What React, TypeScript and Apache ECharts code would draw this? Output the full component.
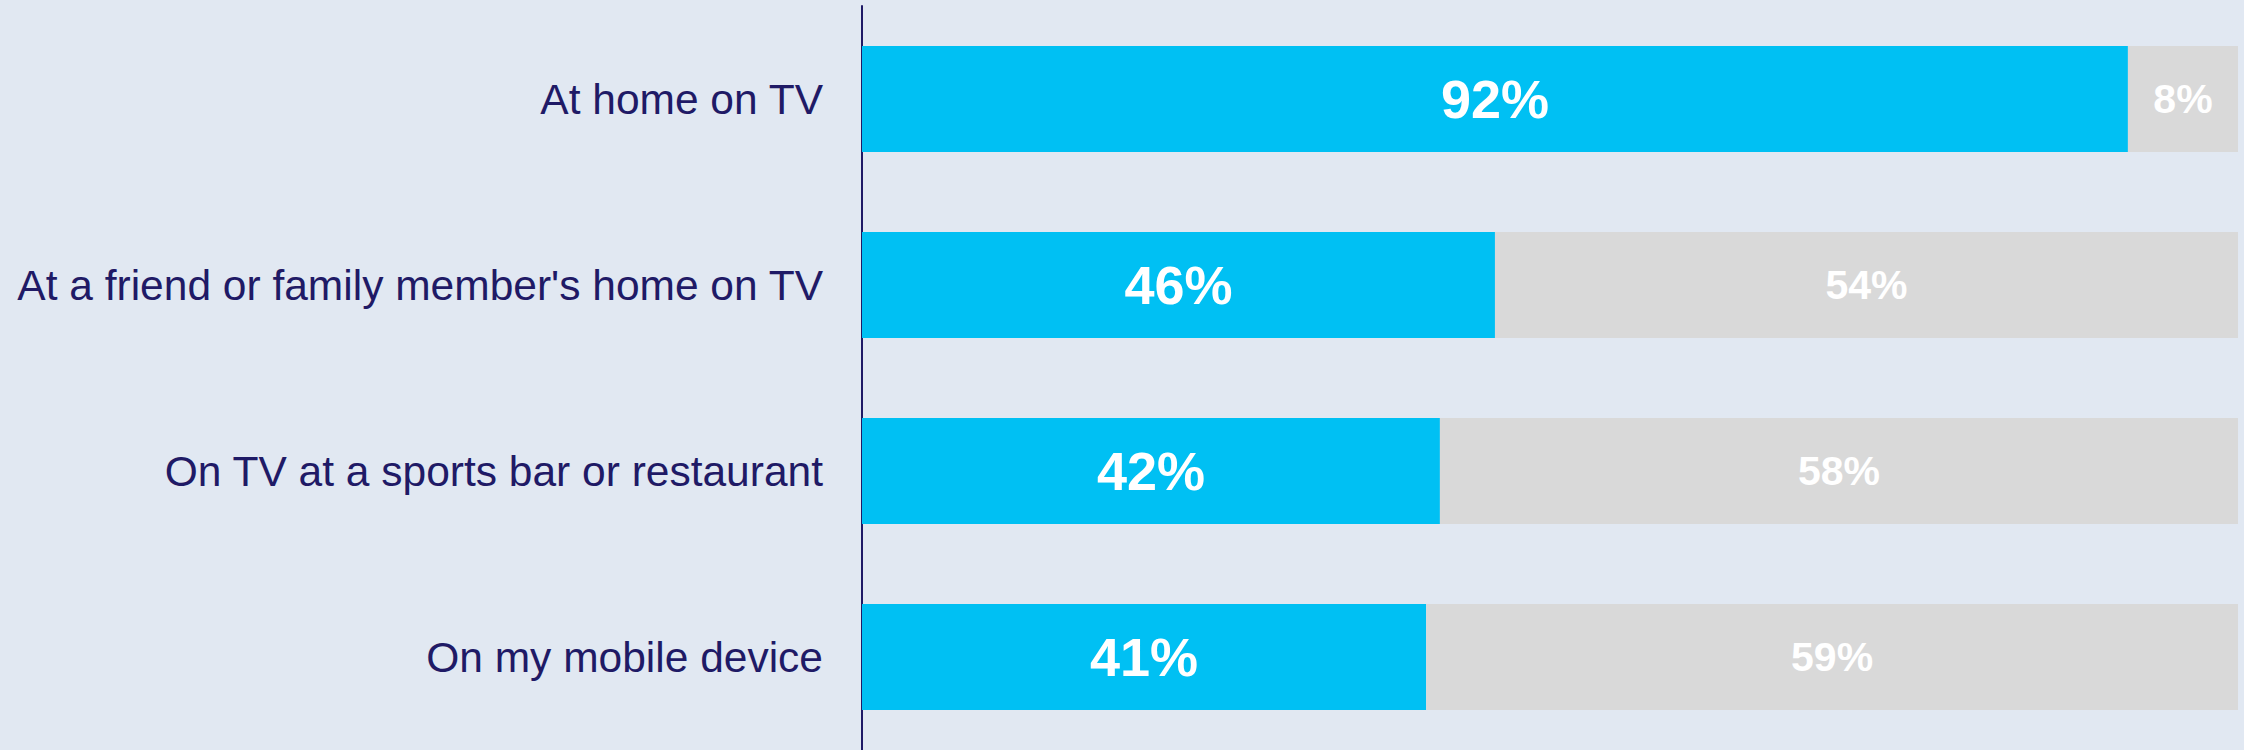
import React, { useEffect, useRef } from "react";
import * as echarts from "echarts";

const categories = [
  "At home on TV",
  "At a friend or family member's home on TV",
  "On TV at a sports bar or restaurant",
  "On my mobile device",
];
const yesValues = [92, 46, 42, 41];
const noValues = [8, 54, 58, 59];

export default function App() {
  const ref = useRef<HTMLDivElement>(null);
  useEffect(() => {
    if (!ref.current) return;
    const chart = echarts.init(ref.current, null, { renderer: "svg" });
    chart.setOption({
      animation: false,
      backgroundColor: "#E1E8F2",
      grid: { left: 862, right: 6, top: 6, bottom: 0, containLabel: false },
      xAxis: {
        type: "value",
        min: 0,
        max: 100,
        show: false,
      },
      yAxis: {
        type: "category",
        data: categories,
        inverse: true,
        axisLine: { show: true, lineStyle: { color: "#1F1A66", width: 2 } },
        axisTick: { show: false },
        splitLine: { show: false },
        axisLabel: {
          color: "#1F1A66",
          fontFamily: "Liberation Sans, Arial, sans-serif",
          fontSize: 42.5,
          margin: 39,
        },
      },
      series: [
        {
          type: "bar",
          stack: "total",
          data: yesValues,
          barWidth: 106,
          itemStyle: { color: "#00C0F3" },
          label: {
            show: true,
            position: "inside",
            formatter: "{c}%",
            color: "#FFFFFF",
            fontFamily: "Liberation Sans, Arial, sans-serif",
            fontWeight: "bold",
            fontSize: 54,
          },
        },
        {
          type: "bar",
          stack: "total",
          data: noValues,
          barWidth: 106,
          itemStyle: { color: "#D9D9D9" },
          label: {
            show: true,
            position: "inside",
            formatter: "{c}%",
            color: "#FFFFFF",
            fontFamily: "Liberation Sans, Arial, sans-serif",
            fontWeight: "bold",
            fontSize: 41,
          },
        },
      ],
    });
    return () => chart.dispose();
  }, []);
  return (
    <div
      ref={ref}
      style={{ position: "fixed", left: 0, top: 0, width: 2244, height: 750 }}
    />
  );
}
